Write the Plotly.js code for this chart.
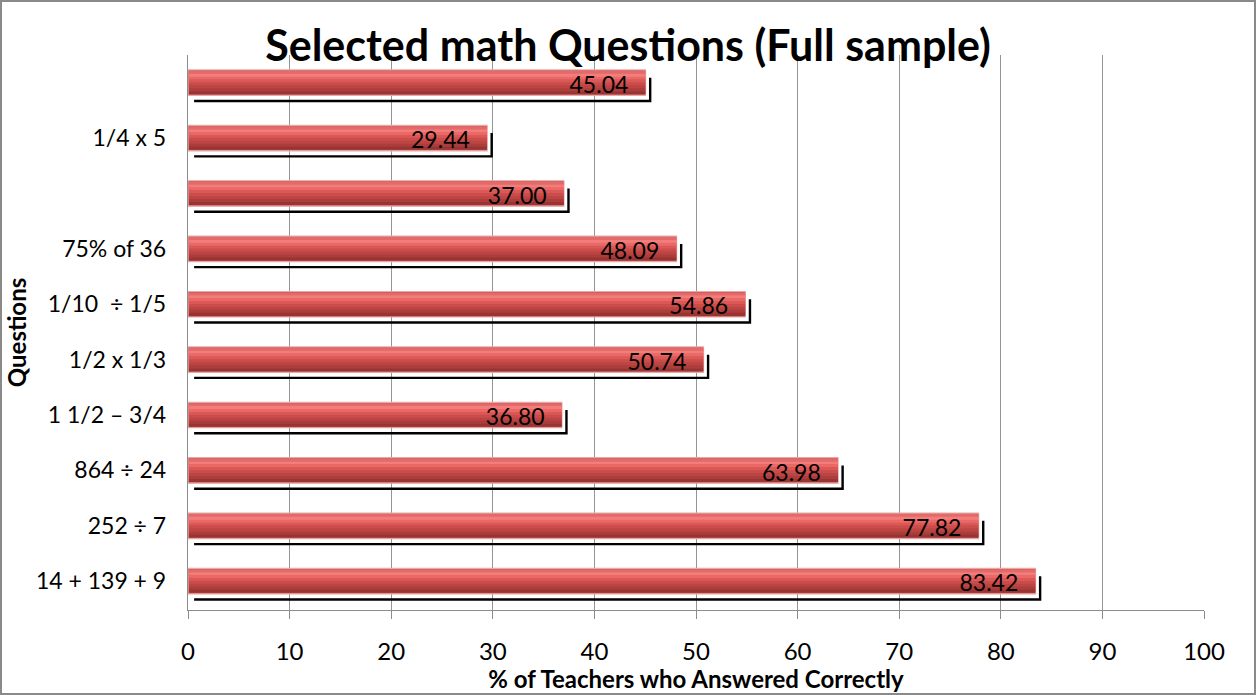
<!DOCTYPE html>
<html>
<head>
<meta charset="utf-8">
<script src="https://cdn.plot.ly/plotly-3.0.1.min.js"></script>
<style>
  html, body { margin: 0; padding: 0; background: #fff; }
  #chart { width: 1252px; height: 691px; border: 2px solid #8a8a8a; }
</style>
</head>
<body>
<div id="chart"></div>
<script>
// Categories listed bottom to top
const questions = ["14 + 139 + 9", "252 ÷ 7", "864 ÷ 24", "1 1/2 – 3/4", "1/2 x 1/3",
                   "1/10  ÷ 1/5", "75% of 36", "", "1/4 x 5", ""];
const percentCorrect = [83.42, 77.82, 63.98, 36.80, 50.74, 54.86, 48.09, 37.00, 29.44, 45.04];
const valueLabels = ["83.42", "77.82", "63.98", "36.80", "50.74", "54.86", "48.09", "37.00", "29.44", "45.04"];
const xTicks = [0, 10, 20, 30, 40, 50, 60, 70, 80, 90, 100];

const positions = questions.map((_, i) => i);
const FONT = "Lato, 'Open Sans', sans-serif";
const H = 0.46;           // bar thickness in category units
const stripColors = ["#e36a68", "#f27e7c", "#ec6866", "#da5856", "#cb4d4b", "#bc4543", "#ac3d3b", "#983534"];
const n = stripColors.length;

const traces = [];

// shadow (L-shaped black line below / right of each bar)
const sx = [], sy = [];
percentCorrect.forEach((v, i) => {
  sx.push(0.6, v + 0.45, v + 0.45, null);
  sy.push(i - H / 2 - 0.1, i - H / 2 - 0.1, i + H / 2 - 0.14, null);
});
traces.push({
  type: "scatter", mode: "lines", x: sx, y: sy,
  line: { color: "#000", width: 2.4 }, hoverinfo: "skip", showlegend: false
});

// base bar with light outline
traces.push({
  type: "bar", orientation: "h", x: percentCorrect, y: positions,
  width: H, marker: { color: "#c0504d", line: { color: "#e7a9a8", width: 1.2 } },
  hoverinfo: "skip", showlegend: false
});

// gradient strips (top -> bottom)
stripColors.forEach((c, k) => {
  const w = (H - 0.04) / n;
  traces.push({
    type: "bar", orientation: "h", x: percentCorrect.map(v => v - 0.1), y: positions,
    base: 0.1,
    width: w * 1.08, offset: (H / 2 - 0.02) - (k + 1) * w,
    marker: { color: c, line: { width: 0 } },
    hoverinfo: "skip", showlegend: false
  });
});

// value labels inside bar end
traces.push({
  type: "scatter", mode: "text",
  x: percentCorrect.map(v => v - 1.7), y: positions.map(p => p - 0.08),
  text: valueLabels, textposition: "middle left",
  textfont: { family: FONT, size: 23, color: "#000" },
  hoverinfo: "skip", showlegend: false
});

const layout = {
  width: 1252, height: 691,
  margin: { l: 186, r: 50, t: 53, b: 83 },
  paper_bgcolor: "#fff", plot_bgcolor: "#fff",
  barmode: "overlay",
  showlegend: false,
  title: {
    text: "<b>Selected math Questions (Full sample)</b>",
    font: { family: FONT, size: 43, color: "#000" },
    x: 0.5, xanchor: "center", y: 0.937, yanchor: "middle"
  },
  xaxis: {
    range: [0, 100], tickvals: xTicks, ticktext: xTicks.map(String),
    showgrid: true, gridcolor: "#959595", gridwidth: 1,
    showline: true, linecolor: "#8c8c8c", linewidth: 1.2,
    ticks: "outside", ticklen: 8, tickcolor: "#8c8c8c",
    ticklabelstandoff: 12,
    tickfont: { family: FONT, size: 24, color: "#000" },
    zeroline: false, fixedrange: true,
    title: { text: "<b>% of Teachers who Answered Correctly</b>",
             font: { family: FONT, size: 24, color: "#000" }, standoff: 4 }
  },
  yaxis: {
    range: [-0.52, 9.5], tickvals: positions, ticktext: questions,
    showgrid: false, showline: true, linecolor: "#8c8c8c", linewidth: 1.2,
    ticks: "", ticklabelstandoff: 16,
    tickfont: { family: FONT, size: 23, color: "#000" },
    zeroline: false, fixedrange: true,
    title: { text: "<b>Questions</b>", font: { family: FONT, size: 24, color: "#000" }, standoff: 2 }
  }
};

Plotly.newPlot("chart", traces, layout, { displayModeBar: false, staticPlot: true });
</script>
</body>
</html>
